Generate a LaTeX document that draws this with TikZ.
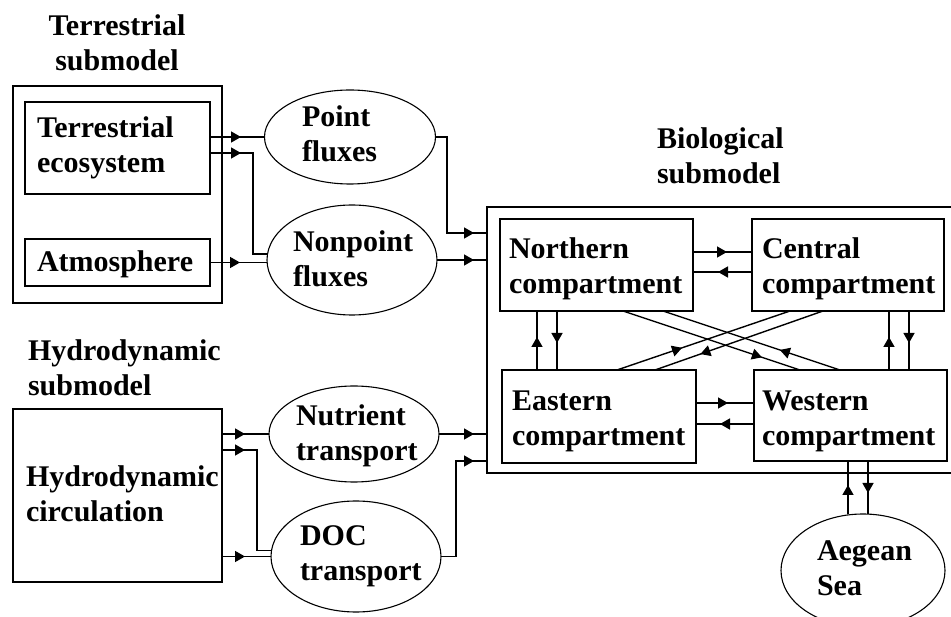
\documentclass[tikz,border=0pt]{standalone}
\usepackage{fontspec}
\setmainfont{Liberation Serif}
\usetikzlibrary{shapes.geometric,arrows.meta,decorations.markings}
\begin{document}
\begin{tikzpicture}[x=1pt,y=-1pt,
  every node/.style={inner sep=0pt, outer sep=0pt},
  box/.style={draw, line width=1.4pt, rectangle},
  ell/.style={draw, line width=1.1pt, ellipse},
  txt/.style={font=\bfseries\fontsize{30}{34.5}\selectfont, align=left},
  con/.style={line width=1.4pt},
  arr/.style={postaction={decorate}, decoration={markings, mark=at position #1 with {\arrow{Triangle[length=10pt,width=11pt]}}}}]
\useasboundingbox (0,0) rectangle (951,617);
% Terrestrial submodel
\node[txt, align=center, anchor=north] (terrl) at (117,15) {Terrestrial\\submodel};
\node[box, minimum width=209pt, minimum height=217pt] (terr) at (117.5,194.5) {};
\node[box, minimum width=185pt, minimum height=92pt] (te) at (117.5,148) {};
\node[box, minimum width=185pt, minimum height=47pt] (atm) at (117.5,262.5) {};
\node[txt, anchor=north west] (tet) at (37,117) {Terrestrial\\ecosystem};
\node[txt, anchor=north west] (atmt) at (37,251) {Atmosphere};
% fluxes
\node[ell, minimum width=171pt, minimum height=94pt] (pf) at (350,137) {};
\node[ell, minimum width=170pt, minimum height=110pt] (np) at (352,260) {};
\node[txt, anchor=north west] (pft) at (302,106) {Point\\fluxes};
\node[txt, anchor=north west] (npt) at (293,231) {Nonpoint\\fluxes};
% Hydrodynamic submodel
\node[txt, anchor=north west] (hydl) at (28,340) {Hydrodynamic\\submodel};
\node[box, minimum width=209pt, minimum height=173pt] (hc) at (117.5,495.5) {};
\node[txt, anchor=north west] (hct) at (26,466) {Hydrodynamic\\circulation};
\node[ell, minimum width=170pt, minimum height=96pt] (nut) at (354,434) {};
\node[ell, minimum width=170pt, minimum height=111pt] (doc) at (356,556.5) {};
\node[txt, anchor=north west] (nutt) at (296,405) {Nutrient\\transport};
\node[txt, anchor=north west] (doct) at (300,526) {DOC\\transport};
% Biological submodel
\node[txt, anchor=north west] (biol) at (657,128) {Biological\\submodel};
\node[box, minimum width=468pt, minimum height=266pt] (bio) at (721,340) {};
\node[box, minimum width=193pt, minimum height=92pt] (n) at (596.5,265) {};
\node[box, minimum width=192pt, minimum height=92pt] (c) at (848,265) {};
\node[box, minimum width=194pt, minimum height=93pt] (e) at (599,416.5) {};
\node[box, minimum width=193pt, minimum height=91pt] (w) at (850.5,415.5) {};
\node[txt, anchor=north west] (nt) at (509,238) {Northern\\compartment};
\node[txt, anchor=north west] (ct) at (762,238) {Central\\compartment};
\node[txt, anchor=north west] (et) at (512,391) {Eastern\\compartment};
\node[txt, anchor=north west] (wt) at (762,391) {Western\\compartment};
\node[ell, minimum width=164pt, minimum height=113pt] (aeg) at (863,570.5) {};
\node[txt, anchor=north west] (aegt) at (817,541) {Aegean\\Sea};
% connectors: terrestrial
\draw[con, arr=31pt] (te.east |- pf.west) -- (pf.west);
\draw[con, arr=31pt] (te.east |- 0,153) -- (253,153) |- ([yshift=6pt]np.west);
\draw[con, arr=30pt] (atm.east) -- (atm.east -| np.west);
\draw[con, arr=-13pt] (pf.east) -- (447,137) |- (bio.west |- 0,233);
\draw[con, arr=-13pt] (np.east) -- (np.east -| bio.west);
% connectors: hydrodynamic
\draw[con, arr=23pt] (hc.east |- nut.west) -- (nut.west);
\draw[con, arr=23pt] (hc.east |- 0,450) -- (257,450) |- ([yshift=6pt]doc.west);
\draw[con, arr=23pt] (hc.east |- doc.west) -- (doc.west);
\draw[con, arr=-13pt] (nut.east) -- (nut.east -| bio.west);
\draw[con, arr=-13pt] (doc.east) -- (456,556.5) |- (bio.west |- 0,461);
% connectors: compartments
\draw[con, arr=34pt] (n.east |- 0,252) -- (c.west |- 0,252);
\draw[con, arr=34pt] (c.west |- 0,272) -- (n.east |- 0,272);
\draw[con, arr=32pt] (e.east |- 0,403) -- (w.west |- 0,403);
\draw[con, arr=34pt] (w.west |- 0,424) -- (e.east |- 0,424);
\draw[con, arr=33pt] (537,0 |- e.north) -- (537,0 |- n.south);
\draw[con, arr=32pt] (557,0 |- n.south) -- (557,0 |- e.north);
\draw[con, arr=33pt] (889,0 |- w.north) -- (889,0 |- c.south);
\draw[con, arr=32pt] (909,0 |- c.south) -- (909,0 |- w.north);
\draw[con, arr=29pt] (848,0 |- aeg.north) -- (848,0 |- w.south);
\draw[con, arr=32pt] (868,0 |- w.south) -- (868,0 |- aeg.north);
\draw[con, arr=0.376] (617,0 |- e.north) -- (790,0 |- c.south);
\draw[con, arr=0.73] (823,0 |- c.south) -- (655,0 |- e.north);
\draw[con, arr=0.785] (623,0 |- n.south) -- (800,0 |- w.north);
\draw[con, arr=0.34] (840,0 |- w.north) -- (663,0 |- n.south);
\end{tikzpicture}
\end{document}
